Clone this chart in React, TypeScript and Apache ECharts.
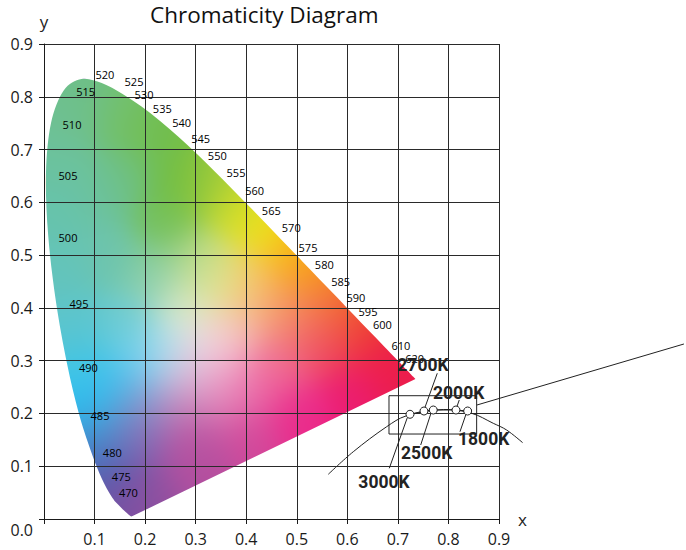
import React, { useEffect, useRef } from "react";
import * as echarts from "echarts";

// CIE 1931 spectral locus (it follows the standard locus)
const locusNm = [380, 400, 420, 430, 440, 450, 460, 465, 470, 475, 480, 485, 490, 495, 500, 505, 510, 515, 520, 525, 530, 535, 540, 545, 550, 555, 560, 565, 570, 575, 580, 585, 590, 595, 600, 605, 610, 615, 620, 625, 630, 640, 650, 660, 680, 700];
const locusX = [0.1741, 0.1733, 0.1714, 0.1689, 0.1644, 0.1566, 0.144, 0.1355, 0.1241, 0.1096, 0.0913, 0.0687, 0.0454, 0.0235, 0.0082, 0.0039, 0.0139, 0.0389, 0.0743, 0.1142, 0.1547, 0.1929, 0.2296, 0.2658, 0.3016, 0.3373, 0.3731, 0.4087, 0.4441, 0.4788, 0.5125, 0.5448, 0.5752, 0.6029, 0.627, 0.6482, 0.6658, 0.6801, 0.6915, 0.7006, 0.7079, 0.719, 0.726, 0.73, 0.7334, 0.7347];
const locusY = [0.005, 0.0048, 0.0051, 0.0069, 0.0109, 0.0177, 0.0297, 0.0399, 0.0578, 0.0868, 0.1327, 0.2007, 0.295, 0.4127, 0.5384, 0.6548, 0.7502, 0.812, 0.8338, 0.8262, 0.8059, 0.7816, 0.7543, 0.7243, 0.6923, 0.6589, 0.6245, 0.5896, 0.5547, 0.5202, 0.4866, 0.4544, 0.4242, 0.3965, 0.3725, 0.3514, 0.334, 0.3197, 0.3083, 0.2993, 0.292, 0.2809, 0.274, 0.27, 0.2666, 0.2653];

// wavelength labels (where they are printed)
const labelNm = [470, 475, 480, 485, 490, 495, 500, 505, 510, 515, 520, 525, 530, 535, 540, 545, 550, 555, 560, 565, 570, 575, 580, 585, 590, 595, 600, 610, 620];
const labelX = [0.1668, 0.1529, 0.1351, 0.1108, 0.0877, 0.0692, 0.0475, 0.0475, 0.0554, 0.0825, 0.1206, 0.178, 0.1978, 0.234, 0.2724, 0.31, 0.3428, 0.3798, 0.4168, 0.4496, 0.4891, 0.5222, 0.5544, 0.5868, 0.6171, 0.6409, 0.6692, 0.7061, 0.7332];
const labelY = [0.0493, 0.0796, 0.1266, 0.1957, 0.288, 0.4074, 0.5343, 0.6512, 0.7471, 0.8104, 0.8431, 0.8293, 0.804, 0.7787, 0.7522, 0.7206, 0.6891, 0.6556, 0.6215, 0.5849, 0.5514, 0.5135, 0.4818, 0.4504, 0.4206, 0.3928, 0.3676, 0.3283, 0.305];

// colour temperature points
const tempNames = ["3000K", "2700K", "2500K", "2000K", "1800K"];
const tempX = [0.7239, 0.7516, 0.77, 0.8149, 0.838];
const tempY = [0.1984, 0.2046, 0.2065, 0.2065, 0.2046];
const tempLabelX = [0.6725, 0.7496, 0.7569, 0.8202, 0.8697];
const tempLabelY = [0.0707, 0.2923, 0.1245, 0.2382, 0.1516];
const leaderFromX = [0.683, 0.7779, 0.7451, 0.8214, 0.8228];
const leaderFromY = [0.0961, 0.2761, 0.1402, 0.2255, 0.1654];
const leaderToX = [0.7186, 0.7536, 0.7654, 0.8163, 0.8347];
const leaderToY = [0.1919, 0.2116, 0.2003, 0.2116, 0.1984];

// blackbody arc
const arcX = [0.5623, 0.6118, 0.6778, 0.716, 0.79, 0.8459, 0.8887, 0.9151, 0.9468];
const arcY = [0.0847, 0.1275, 0.1749, 0.1952, 0.2075, 0.2003, 0.1813, 0.1686, 0.1446];

// inset box and callout line
const insetX = [0.6824, 0.8558];
const insetY = [0.161, 0.2336];
const calloutX = [0.8564, 1.2658];
const calloutY = [0.216, 0.3316];

// colours sampled from the diagram fill
const colorAnchors: [number, number, string][] = [
  [0.075, 0.8, "#6dbf88"], [0.15, 0.765, "#73c06a"], [0.22, 0.72, "#72be4c"], [0.27, 0.64, "#6fbd3f"],
  [0.33, 0.635, "#9fcb3b"], [0.38, 0.59, "#cddc2a"], [0.43, 0.55, "#f0e41a"], [0.49, 0.5, "#f9b515"],
  [0.53, 0.455, "#f7931e"], [0.58, 0.4, "#f26a2a"], [0.63, 0.35, "#ee3a36"], [0.69, 0.285, "#ed1f45"],
  [0.72, 0.268, "#ec1b50"], [0.62, 0.24, "#ec1c72"], [0.5, 0.2, "#eb2a8b"], [0.4, 0.16, "#d1479a"],
  [0.3, 0.11, "#b14f9f"], [0.21, 0.05, "#9a4f9f"], [0.165, 0.02, "#7c4fa0"], [0.14, 0.07, "#5d57a9"],
  [0.12, 0.12, "#4a6fba"], [0.1, 0.17, "#3a9bd8"], [0.09, 0.22, "#27c4f4"], [0.075, 0.29, "#45c5e2"],
  [0.055, 0.37, "#5cc5cd"], [0.035, 0.47, "#63c4bb"], [0.025, 0.58, "#66c3ad"], [0.025, 0.68, "#6bc29e"],
  [0.045, 0.76, "#6fc093"], [0.13, 0.5, "#6dc4ad"], [0.1, 0.62, "#6bc2a2"], [0.16, 0.65, "#6fc081"],
  [0.24, 0.56, "#74c05a"], [0.164, 0.366, "#6ccbd1"], [0.19, 0.295, "#5fcdf5"], [0.133, 0.24, "#3ac0f0"],
  [0.24, 0.32, "#bfe3ee"], [0.28, 0.4, "#dce9c8"], [0.22, 0.46, "#8ccfa8"], [0.31, 0.49, "#b3d88a"],
  [0.35, 0.45, "#e6e98f"], [0.41, 0.447, "#f7c36a"], [0.46, 0.396, "#f5a070"], [0.38, 0.358, "#f5c3b6"],
  [0.33, 0.32, "#f3e0ea"], [0.283, 0.27, "#d9bfdc"], [0.36, 0.27, "#f2a5c8"], [0.46, 0.3, "#f0708f"],
  [0.55, 0.33, "#ee4565"], [0.52, 0.38, "#f3806c"], [0.2, 0.22, "#9a9fd0"], [0.165, 0.176, "#7c7fc0"],
  [0.2, 0.15, "#8b5aab"], [0.277, 0.206, "#c480b7"], [0.35, 0.225, "#e07bb4"], [0.42, 0.25, "#ec5fa3"],
  [0.3, 0.15, "#bb4e9f"],
];

let fieldCache: { key: string; url: string } | null = null;
// builds the colour field for the pixel box [bx, bx+bw] x [by, by+bh]
function colorField(bx: number, by: number, bw: number, bh: number, ox: number, sx: number, oy: number, sy: number): string {
  const key = [bx, by, bw, bh, ox, sx, oy, sy].map((v) => v.toFixed(2)).join(",");
  if (fieldCache && fieldCache.key === key) return fieldCache.url;
  const c = document.createElement("canvas");
  c.width = bw;
  c.height = bh;
  const ctx = c.getContext("2d")!;
  const img = ctx.createImageData(bw, bh);
  const an = colorAnchors.map(([x, y, h]) => [x, y, parseInt(h.slice(1, 3), 16), parseInt(h.slice(3, 5), 16), parseInt(h.slice(5, 7), 16)]);
  const sigma = 0.045;
  const inv = 1 / (2 * sigma * sigma);
  for (let j = 0; j < bh; j++) {
    const dy = (by + j + 0.5 - oy) / sy;
    for (let i = 0; i < bw; i++) {
      const dx = (bx + i + 0.5 - ox) / sx;
      let ws = 0, r = 0, g = 0, b = 0;
      for (let k = 0; k < an.length; k++) {
        const a = an[k];
        const ex = dx - a[0], ey = dy - a[1];
        const w = Math.exp(-(ex * ex + ey * ey) * inv) + 1e-12;
        ws += w; r += w * a[2]; g += w * a[3]; b += w * a[4];
      }
      const o = (j * bw + i) * 4;
      img.data[o] = r / ws;
      img.data[o + 1] = g / ws;
      img.data[o + 2] = b / ws;
      img.data[o + 3] = 255;
    }
  }
  ctx.putImageData(img, 0, 0);
  const url = c.toDataURL();
  fieldCache = { key, url };
  return url;
}

// smooth outline through the locus points (Catmull-Rom as cubic Beziers), closed by the purple line
function locusPath(pts: number[][]) {
  const n = pts.length;
  let d = `M${pts[0][0]},${pts[0][1]}`;
  let minX = Infinity, minY = Infinity, maxX = -Infinity, maxY = -Infinity;
  const grow = (x: number, y: number) => {
    if (x < minX) minX = x; if (y < minY) minY = y;
    if (x > maxX) maxX = x; if (y > maxY) maxY = y;
  };
  grow(pts[0][0], pts[0][1]);
  for (let i = 0; i < n - 1; i++) {
    const p0 = pts[Math.max(0, i - 1)], p1 = pts[i], p2 = pts[i + 1], p3 = pts[Math.min(n - 1, i + 2)];
    const c1 = [p1[0] + (p2[0] - p0[0]) / 6, p1[1] + (p2[1] - p0[1]) / 6];
    const c2 = [p2[0] - (p3[0] - p1[0]) / 6, p2[1] - (p3[1] - p1[1]) / 6];
    d += `C${c1[0]},${c1[1]} ${c2[0]},${c2[1]} ${p2[0]},${p2[1]}`;
    for (let t = 0.05; t <= 1.0001; t += 0.05) {
      const u = 1 - t;
      const x = u * u * u * p1[0] + 3 * u * u * t * c1[0] + 3 * u * t * t * c2[0] + t * t * t * p2[0];
      const y = u * u * u * p1[1] + 3 * u * u * t * c1[1] + 3 * u * t * t * c2[1] + t * t * t * p2[1];
      grow(x, y);
    }
  }
  d += "Z";
  return { d, minX, minY, maxX, maxY };
}

const FONT = "Open Sans";
const INK = "#222";

// a polyline drawn through the grid's scales, not clipped to the plot area
function polylineSeries(name: string, xs: number[], ys: number[], smooth: number) {
  return {
    type: "custom",
    name,
    z: 4,
    silent: true,
    clip: false,
    data: [[xs[0], ys[0]]],
    renderItem: (params: any, api: any) => ({
      type: "polyline",
      shape: { points: xs.map((x, i) => api.coord([x, ys[i]])), smooth },
      style: { stroke: INK, lineWidth: 1, fill: null },
    }),
  };
}

export default function App() {
  const ref = useRef<HTMLDivElement>(null);
  useEffect(() => {
    if (!ref.current) return;
    const chart = echarts.init(ref.current, undefined, { renderer: "svg" });
    const axisCommon = {
      type: "value",
      min: 0,
      max: 0.9,
      interval: 0.1,
      z: 3,
      axisLine: { show: true, lineStyle: { color: "#1a1a1a", width: 1 } },
      axisTick: { show: true, length: 5, inside: false, lineStyle: { color: "#1a1a1a", width: 1 } },
      splitLine: { show: true, lineStyle: { color: "#2a2a2a", width: 1 } },
    };
    const labelPlain = { textBorderWidth: 0, textShadowBlur: 0, opacity: 1 };
    const insetRectX = [insetX[0], insetX[1], insetX[1], insetX[0], insetX[0]];
    const insetRectY = [insetY[1], insetY[1], insetY[0], insetY[0], insetY[1]];
    chart.setOption({
      animation: false,
      title: {
        text: "Chromaticity Diagram",
        left: 150,
        top: 3,
        padding: 0,
        textStyle: { fontSize: 22.5, fontWeight: "normal", fontFamily: FONT, color: "#111" },
      },
      grid: { left: 44, right: 187, top: 44, bottom: 31 },
      xAxis: {
        ...axisCommon,
        name: "x",
        nameLocation: "end",
        nameGap: 19,
        nameTextStyle: { fontSize: 17, fontFamily: FONT, color: INK },
        axisLabel: {
          fontSize: 16,
          fontFamily: FONT,
          color: "#1a1a1a",
          margin: 12,
          formatter: (v: number) => (Math.abs(v) < 1e-9 ? "" : v.toFixed(1)),
        },
      },
      yAxis: {
        ...axisCommon,
        name: "y",
        nameLocation: "end",
        nameGap: 14,
        nameTextStyle: { fontSize: 17, fontFamily: FONT, color: INK },
        axisLabel: {
          fontSize: 16,
          fontFamily: FONT,
          color: "#1a1a1a",
          margin: 11,
          formatter: (v: number) => (Math.abs(v) < 1e-9 ? "{z|0.0}" : v.toFixed(1)),
          rich: { z: { padding: [22, 0, 0, 0], fontSize: 16, fontFamily: FONT, color: "#1a1a1a" } },
        },
      },
      series: [
        {
          type: "custom",
          name: "locus",
          z: 2,
          silent: true,
          data: [[0, 0]],
          renderItem: (params: any, api: any) => {
            const p0 = api.coord([0, 0]);
            const p1 = api.coord([0.9, 0.9]);
            const points = locusX.map((x, i) => api.coord([x, locusY[i]]));
            const path = locusPath(points);
            const bw = Math.max(1, Math.round(path.maxX - path.minX));
            const bh = Math.max(1, Math.round(path.maxY - path.minY));
            const url = colorField(path.minX, path.minY, bw, bh, p0[0], (p1[0] - p0[0]) / 0.9, p0[1], (p1[1] - p0[1]) / 0.9);
            return {
              type: "path",
              shape: { pathData: path.d },
              style: { fill: { image: url, repeat: "no-repeat", imageWidth: bw, imageHeight: bh }, stroke: null },
            };
          },
        },
        polylineSeries("arc", arcX, arcY, 0.35),
        polylineSeries("inset", insetRectX, insetRectY, 0),
        polylineSeries("callout", calloutX, calloutY, 0),
        {
          type: "custom",
          name: "leaders",
          z: 4,
          silent: true,
          clip: false,
          encode: { x: [0, 2], y: [1, 3] },
          data: tempNames.map((_, i) => [leaderFromX[i], leaderFromY[i], leaderToX[i], leaderToY[i]]),
          renderItem: (params: any, api: any) => {
            const a = api.coord([api.value(0), api.value(1)]);
            const b = api.coord([api.value(2), api.value(3)]);
            return {
              type: "line",
              shape: { x1: a[0], y1: a[1], x2: b[0], y2: b[1] },
              style: { stroke: INK, lineWidth: 1 },
            };
          },
        },
        {
          type: "line",
          name: "temperatures",
          z: 5,
          clip: false,
          silent: true,
          symbol: "circle",
          symbolSize: 8,
          lineStyle: { color: INK, width: 1 },
          itemStyle: { color: "#fff", borderColor: INK, borderWidth: 1 },
          data: tempX.map((x, i) => [x, tempY[i]]),
        },
        {
          type: "scatter",
          name: "wavelengths",
          z: 6,
          silent: true,
          symbolSize: 1,
          itemStyle: { color: "rgba(0,0,0,0)", opacity: 1 },
          label: {
            show: true,
            position: "inside",
            fontSize: 11,
            fontFamily: FONT,
            color: "#000",
            ...labelPlain,
            formatter: (p: any) => String(p.value[2]),
          },
          data: labelNm.map((nm, i) => [labelX[i], labelY[i], nm]),
        },
        {
          type: "scatter",
          name: "tempLabels",
          z: 7,
          silent: true,
          clip: false,
          symbolSize: 1,
          itemStyle: { color: "rgba(0,0,0,0)", opacity: 1 },
          label: {
            show: true,
            position: "inside",
            fontSize: 17.5,
            fontWeight: "bold",
            fontFamily: "Roboto",
            color: "#232323",
            ...labelPlain,
            formatter: (p: any) => p.value[2],
          },
          data: tempNames.map((n, i) => [tempLabelX[i], tempLabelY[i], n]),
        },
      ],
    } as any);
    return () => chart.dispose();
  }, []);
  return <div ref={ref} style={{ width: 686, height: 550, position: "absolute", left: 0, top: 0 }} />;
}
